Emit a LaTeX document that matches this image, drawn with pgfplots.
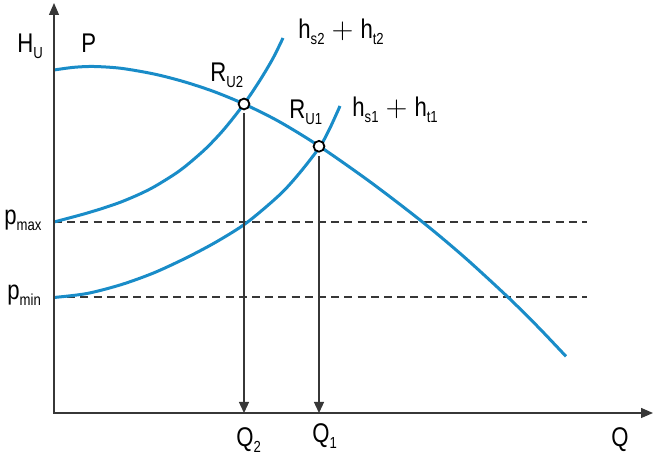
\documentclass[border=0pt]{standalone}
\usepackage{fontspec}
\setmainfont{Liberation Sans}[FakeStretch=0.82]
\usepackage{pgfplots}
\pgfplotsset{compat=1.18}
\usetikzlibrary{arrows.meta}
\definecolor{pblue}{RGB}{25,140,200}
\definecolor{axgray}{RGB}{55,55,55}
\newcommand\sub[1]{\raisebox{-3pt}{\fontsize{8}{9}\selectfont #1}}
\newcommand\lab[1]{{\fontsize{13.5}{16}\selectfont #1}}
\newcommand\plus{\hspace{3.5pt}$+$\hspace{3.5pt}}
\begin{document}
\begin{tikzpicture}
\begin{axis}[
  x=0.5pt, y=0.5pt,
  xmin=-54, xmax=600, ymin=-42, ymax=413,
  scale only axis,
  axis line style={draw=none},
  ticks=none,
  clip=false,
]
% dashed pressure limits
\addplot[axgray, line width=0.6pt, dash pattern=on 4pt off 2.6pt] coordinates {(0,191) (533,191)};
\addplot[axgray, line width=0.6pt, dash pattern=on 4pt off 2.6pt] coordinates {(0,116) (533,116)};
% pump curve P
\addplot[pblue, line width=1.5pt, smooth, tension=0.5] coordinates {
 (0,343) (20,345.7) (40,346.5) (67,344.7) (100,339.0) (130,331.3) (160,321.4)
 (190,309) (225,291.5) (265,267) (317,230.5) (369,190.6) (411,155.3)
 (454,115.8) (484,86.1) (512,56.6)};
% system curve 2
\addplot[pblue, line width=1.5pt, smooth, tension=0.5] coordinates {
 (0,191) (20,196.3) (33,199.9) (50,205.1) (67,211) (85,218.6) (100,226.1)
 (120,238.4) (133,248) (152,264.6) (170,283.7) (190,309) (206,332.8)
 (219,354.7) (229,375)};
% system curve 1
\addplot[pblue, line width=1.5pt, smooth, tension=0.5] coordinates {
 (0,115.5) (33,119.5) (67,128.3) (100,140.2) (133,155.5) (163,171.5)
 (193,190.5) (226,218.5) (246,240.5) (266,266.5) (276,285) (286,307)};
% vertical arrows
\addplot[axgray, line width=0.65pt, -{Triangle[length=5.5pt,width=5pt]}] coordinates {(190,300) (190,0)};
\addplot[axgray, line width=0.65pt, -{Triangle[length=5.5pt,width=5pt]}] coordinates {(265,257) (265,0)};
% operating points
\addplot[only marks, mark=*, mark size=2.7pt, mark options={fill=white, draw=black, line width=0.9pt}] coordinates {(190,309) (265,266.7)};
% axes
\draw[axgray, line width=0.65pt, -{Triangle[length=6pt,width=5pt]}] (axis cs:0,-1) -- (axis cs:0,410);
\draw[axgray, line width=0.65pt, -{Triangle[length=6pt,width=5pt]}] (axis cs:0,0) -- (axis cs:599,0);
% labels
\node[anchor=base west, inner sep=0pt] at (axis cs:-37,360) {\lab{H\sub{U}}};
\node[anchor=base west, inner sep=0pt] at (axis cs:27,360) {\lab{P}};
\node[anchor=base west, inner sep=0pt] at (axis cs:156,331) {\lab{R\sub{U2}}};
\node[anchor=base west, inner sep=0pt] at (axis cs:235,294) {\lab{R\sub{U1}}};
\node[anchor=base west, inner sep=0pt] at (axis cs:244,374) {\lab{h\sub{s2}\plus h\sub{t2}}};
\node[anchor=base west, inner sep=0pt] at (axis cs:298,296) {\lab{h\sub{s1}\plus h\sub{t1}}};
\node[anchor=base west, inner sep=0pt] at (axis cs:-50,188) {\lab{p\sub{max}}};
\node[anchor=base west, inner sep=0pt] at (axis cs:-47,113) {\lab{p\sub{min}}};
\node[anchor=base west, inner sep=0pt] at (axis cs:182,-34) {\lab{Q\sub{2}}};
\node[anchor=base west, inner sep=0pt] at (axis cs:258,-30) {\lab{Q\sub{1}}};
\node[anchor=base west, inner sep=0pt] at (axis cs:557,-34) {\lab{Q}};
\end{axis}
\end{tikzpicture}
\end{document}
